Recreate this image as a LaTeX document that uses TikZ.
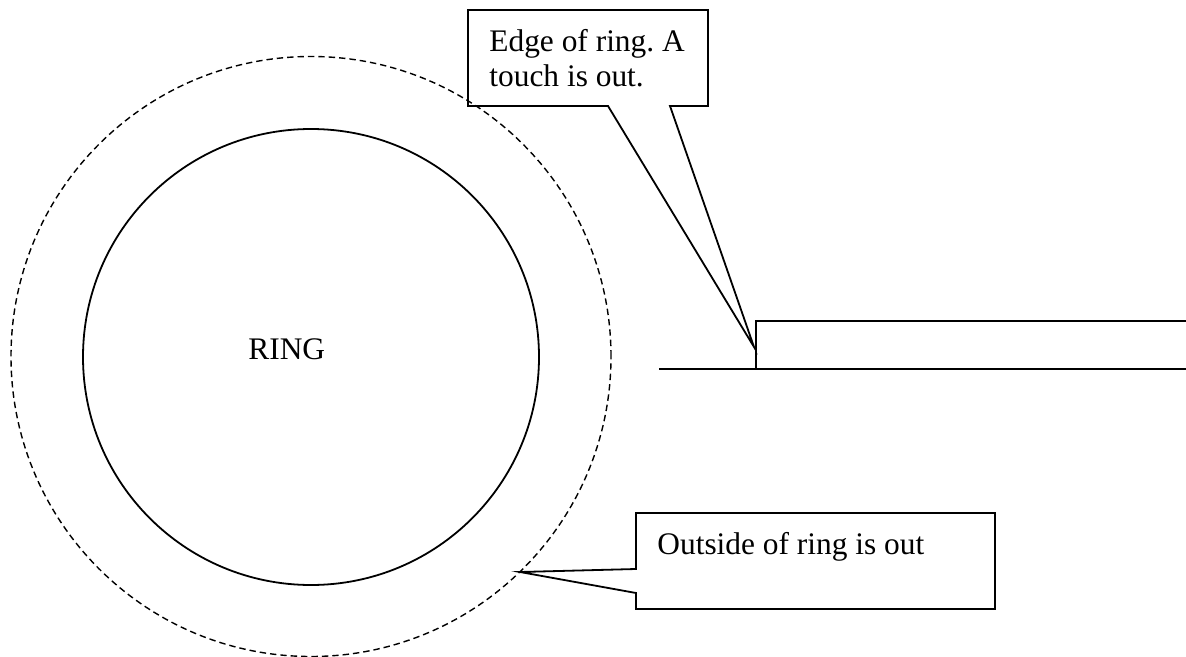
\documentclass[tikz,border=0pt]{standalone}
\usepackage{fontspec}
\setmainfont{Liberation Serif}
\frenchspacing
\begin{document}
\begin{tikzpicture}[x=0.5pt,y=-0.5pt,
  ln/.style={line width=0.9pt,line join=miter},
  txt/.style={inner sep=0pt,anchor=base west,font=\fontsize{15.7}{18}\selectfont}]
\useasboundingbox (0,0) rectangle (1186,657);
% circles
\coordinate (c) at (311,356.5);
\draw[line width=0.7pt,dash pattern=on 3.2pt off 2pt] (c) circle [radius=150pt];
\draw[ln] (311,357) circle [radius=114pt];
\node[txt] (ring) at (248,359) {RING};
% top callout
\coordinate (tip1) at (754,347);
\draw[ln] (468,10) -- (708,10) -- (708,106) -- (670,106) -- (tip1) -- (608,106) -- (468,106) -- cycle;
\node[txt] (t1) at (489,52) {Edge of ring. A};
\node[txt] (t2) at (489,87) {touch is out.};
% bottom callout
\coordinate (tip2) at (520,572);
\draw[ln] (636,513) -- (995,513) -- (995,609) -- (636,609) -- (636,593) -- (tip2) -- (636,569) -- cycle;
\node[txt] (t3) at (657,554) {Outside of ring is out};
% ring edge
\draw[ln] (659,369) -- (1187,369);
\draw[ln] (756,369) -- (756,321) -- (1187,321);
\end{tikzpicture}
\end{document}
